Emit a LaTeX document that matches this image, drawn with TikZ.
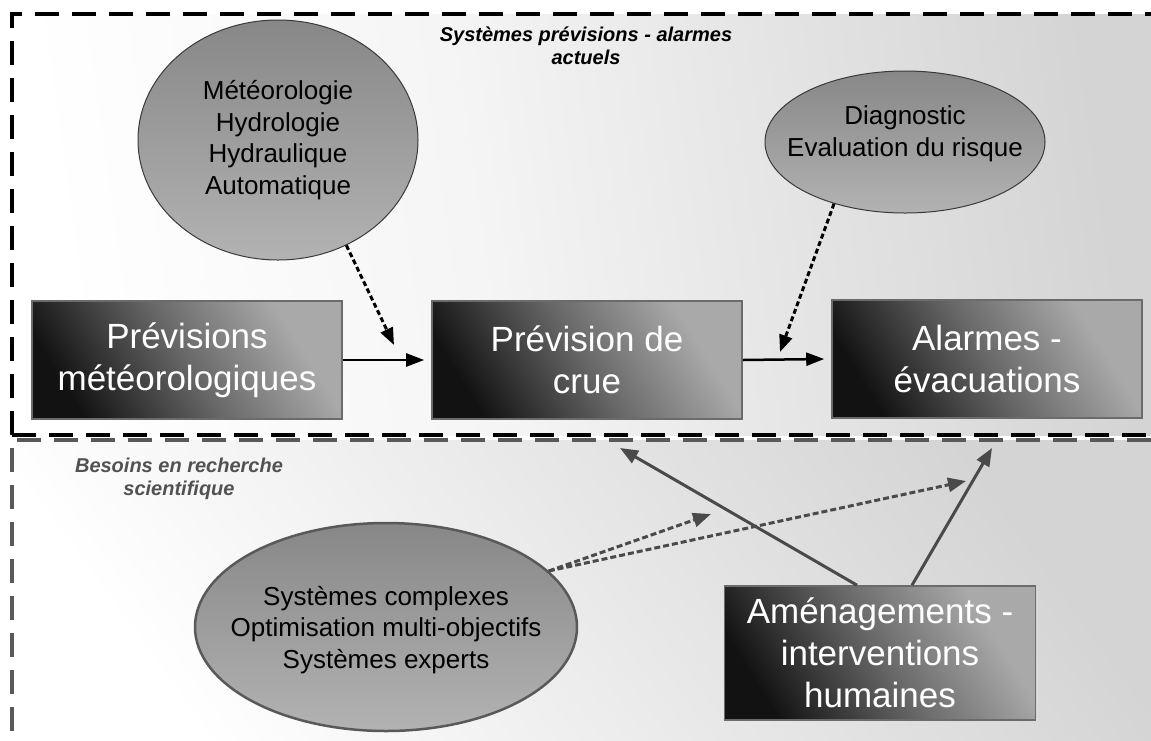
\documentclass[tikz,border=0pt]{standalone}
\usepackage{fontspec}
\setmainfont{Liberation Sans}
\usetikzlibrary{arrows.meta,shapes.geometric}

\definecolor{boxdark}{HTML}{121212}
\definecolor{boxmid}{HTML}{686868}
\definecolor{boxlight}{HTML}{A9A9A9}
\definecolor{ellborder}{HTML}{3A3A3A}
\definecolor{lowgray}{HTML}{4A4A4A}
\definecolor{zonegray}{HTML}{D4D4D4}

% diagonal fills: the middle half (25bp..75bp) spans the filled shape
\pgfdeclarehorizontalshading{stageshade}{100bp}{%
  color(0bp)=(boxdark); color(25bp)=(boxdark); color(50bp)=(boxmid);
  color(72bp)=(boxlight); color(100bp)=(boxlight)}
\pgfdeclarehorizontalshading{zoneshade}{100bp}{%
  color(0bp)=(white); color(25bp)=(white); color(45bp)=(white!96!black);
  color(75bp)=(zonegray); color(100bp)=(zonegray)}
\pgfdeclarehorizontalshading{lowzoneshade}{100bp}{%
  color(0bp)=(white); color(25bp)=(white); color(40bp)=(white!95!black);
  color(75bp)=(zonegray); color(100bp)=(zonegray)}

\tikzset{
  stagebox/.style={rectangle, draw=black!58, line width=1.6pt,
    shade, shading=stageshade, shading angle=32,
    minimum width=310pt, minimum height=118pt, inner sep=0pt,
    text=white, align=center, font=\fontsize{35}{42}\selectfont},
  bubble/.style={ellipse, draw=ellborder, line width=1pt, inner sep=0pt,
    top color=black!47, bottom color=black!30},
  bubbletext/.style={align=center, text=black, font=\fontsize{26}{31.5}\selectfont},
  frametop/.style={draw=black, line width=3.5pt, dash pattern=on 24pt off 13pt},
  framelow/.style={draw=black!65, line width=3.5pt, dash pattern=on 24pt off 13pt},
  flow/.style={draw=black, line width=2.5pt, -{Triangle[length=18pt,width=13pt]}},
  hint/.style={draw=black, line width=3pt, dash pattern=on 5pt off 3pt,
    -{Triangle[length=17pt,width=13pt]}},
  lowflow/.style={draw=lowgray, line width=3pt, -{Triangle[length=18pt,width=14pt]}},
  lowhint/.style={draw=lowgray, line width=3pt, dash pattern=on 6pt off 3pt,
    -{Triangle[length=18pt,width=14pt]}},
  heading/.style={align=center, font=\bfseries\itshape\fontsize{20}{23}\selectfont},
}

\begin{document}
\begin{tikzpicture}[x=1pt,y=-1pt]
\useasboundingbox (0,0) rectangle (1151,740);
\fill[white] (0,0) rectangle (1151,740);

% background of the two zones
\shade[shading=zoneshade, shading angle=8] (12,14) rectangle (1151,435);
\shade[shading=lowzoneshade, shading angle=36] (12,440) rectangle (1151,740);

% dashed zone borders
\draw[frametop] (12,435) -- (12,14) -- (1151,14);
\draw[frametop] (12,435) -- (1151,435);
\draw[framelow] (1151,440) -- (12,440) -- (12,740);

% headings
\node[heading] (topzone) at (586,46) {Systèmes prévisions - alarmes\\actuels};
\node[heading, text=black!68] (lowzone) at (179,479) {Besoins en recherche\\scientifique};

% process chain
\node[stagebox] (meteo) at (187,360) {Prévisions\\météorologiques};
\node[stagebox] (crue) at (587,360) {Prévision de\\crue};
\node[stagebox] (alarm) at (987,359) {Alarmes -\\évacuations};
\node[stagebox, minimum width=311pt, minimum height=134pt] (amenag) at (880,653)
  {Aménagements -\\interventions\\humaines};

% knowledge bubbles
\node[bubble, minimum width=280pt, minimum height=240pt] (disc) at (278,140) {};
\node[bubbletext] (disctext) at (278,140) {Météorologie\\Hydrologie\\Hydraulique\\Automatique};
\node[bubble, minimum width=280pt, minimum height=142pt] (diag) at (905,142) {};
\node[bubbletext] (diagtext) at (905,134) {Diagnostic\\Evaluation du risque};
\node[bubble, draw=black!65, line width=2.5pt, minimum width=382pt, minimum height=208pt] (sys) at (386,627) {};
\node[bubbletext] (systext) at (386,630) {Systèmes complexes\\Optimisation multi-objectifs\\Systèmes experts};

% free ends of the hint arrows
\coordinate (toCrue) at (394,345);
\coordinate (toAlarm) at (780,352);
\coordinate (upCrue) at (620,448);
\coordinate (upAlarm) at (992,448);
\coordinate (hintA) at (711,514);
\coordinate (hintB) at (966,481);

% flow arrows
\draw[flow] (meteo.east) -- ([xshift=-7pt]crue.west);
\draw[flow] (crue.east) -- ([xshift=-7pt]alarm.west);
\draw[hint] (disc.-57) -- (toCrue);
\draw[hint] (diag.-139) -- (toAlarm);

% lower zone arrows
\draw[lowflow] ([xshift=-23pt]amenag.north) -- (upCrue);
\draw[lowflow] ([xshift=32pt]amenag.north) -- (upAlarm);
\draw[lowhint] (sys.19) -- (hintA);
\draw[lowhint] (sys.19) -- (hintB);
\end{tikzpicture}
\end{document}
